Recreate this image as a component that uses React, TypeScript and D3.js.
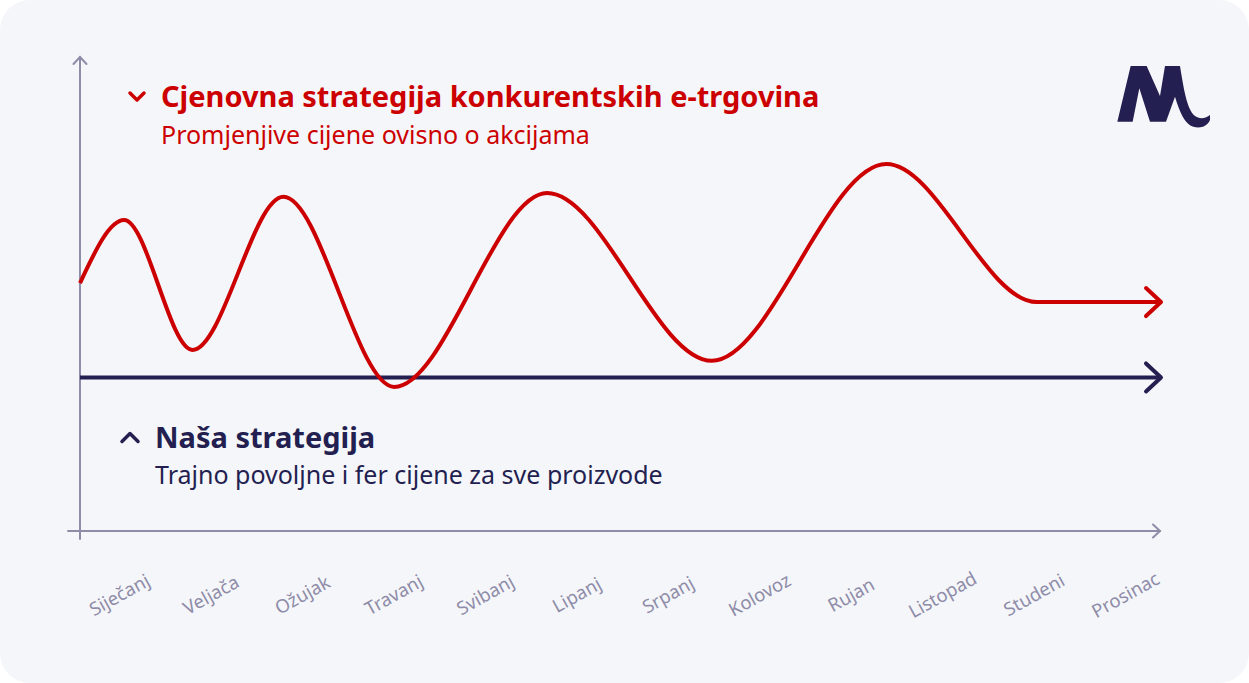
import { curveMonotoneX, line, scaleLinear, scalePoint } from "d3";
import React from "react";

const months = [
  "Siječanj",
  "Veljača",
  "Ožujak",
  "Travanj",
  "Svibanj",
  "Lipanj",
  "Srpanj",
  "Kolovoz",
  "Rujan",
  "Listopad",
  "Studeni",
  "Prosinac",
];

// turning points of the competitor curve: time across the year (0..12) and price level
const competitorTime = [0, 0.49, 1.25, 2.26, 3.49, 5.19, 7.02, 8.96, 10.63, 12];
const competitorPrice = [52.3, 65.6, 38.2, 70.5, 30.4, 71.3, 35.9, 77.4, 48.3, 48.3];

const ourTime = [0, 12];
const ourPrice = [32.4, 32.4];

const competitorTitle = "Cjenovna strategija konkurentskih e-trgovina";
const competitorSubtitle = "Promjenjive cijene ovisno o akcijama";
const ourTitle = "Naša strategija";
const ourSubtitle = "Trajno povoljne i fer cijene za sve proizvode";

const W = 1249;
const H = 683;
const RED = "#cc0000";
const NAVY = "#231f50";
const AXIS = "#8e8ca8";
const FONT = "'Noto Sans', 'Open Sans', sans-serif";

const xScale = scaleLinear().domain([0, 12]).range([80, 1160]);
const yScale = scaleLinear().domain([0, 100]).range([531, 57]);
const monthScale = scalePoint<string>().domain(months).range([119, 1125]);

const lineGen = line<[number, number]>()
  .x((d) => xScale(d[0]))
  .y((d) => yScale(d[1]))
  .curve(curveMonotoneX);

const chevron = (x: number, y: number, back: number, half: number) =>
  `M${x - back},${y - half}L${x},${y}L${x - back},${y + half}`;

const App: React.FC = () => {
  const competitor = competitorTime.map(
    (t, i) => [t, competitorPrice[i]] as [number, number],
  );
  const ours = ourTime.map((t, i) => [t, ourPrice[i]] as [number, number]);

  const x0 = xScale(0);
  const xEnd = xScale(12);
  const yBase = yScale(0);
  const yTop = yScale(100);
  const redEndY = yScale(competitorPrice[competitorPrice.length - 1]);
  const navyY = yScale(ourPrice[ourPrice.length - 1]);

  return (
    <svg
      width={W}
      height={H}
      style={{ position: "absolute", left: 0, top: 0, fontFamily: FONT }}
    >
      <rect width={W} height={H} fill="#ffffff" />
      <rect width={W} height={H} rx={30} fill="#f5f6fa" />

      {/* axes */}
      <g stroke={AXIS} strokeWidth={2} fill="none" strokeLinecap="round">
        <line x1={x0} x2={x0} y1={yBase + 8} y2={yTop} />
        <path d={`M${x0 - 6.5},${yTop + 7}L${x0},${yTop}L${x0 + 6.5},${yTop + 7}`} />
        <line x1={68} x2={xEnd} y1={yBase} y2={yBase} />
        <path d={chevron(xEnd, yBase, 7, 6.5)} />
      </g>

      {months.map((m) => (
        <text
          key={m}
          transform={`translate(${monthScale(m)}, 594) rotate(-29)`}
          textAnchor="middle"
          dominantBaseline="central"
          fontSize={18.5}
          fill={AXIS}
        >
          {m}
        </text>
      ))}

      {/* our line */}
      <path d={lineGen(ours)!} fill="none" stroke={NAVY} strokeWidth={4} />
      <path
        d={chevron(xEnd + 1, navyY, 15, 14)}
        fill="none"
        stroke={NAVY}
        strokeWidth={4}
        strokeLinecap="round"
        strokeLinejoin="round"
      />

      {/* competitor curve */}
      <path d={lineGen(competitor)!} fill="none" stroke={RED} strokeWidth={4} />
      <path
        d={chevron(xEnd + 1, redEndY, 15, 14)}
        fill="none"
        stroke={RED}
        strokeWidth={4}
        strokeLinecap="round"
        strokeLinejoin="round"
      />

      {/* labels */}
      <path
        d="M130,93L137,100L144,93"
        fill="none"
        stroke={RED}
        strokeWidth={3.5}
        strokeLinecap="round"
        strokeLinejoin="round"
      />
      <text x={161} y={107} fontSize={29} fontWeight={700} fill={RED}>
        {competitorTitle}
      </text>
      <text x={161} y={144} fontSize={25} fill={RED}>
        {competitorSubtitle}
      </text>

      <path
        d="M122,441.5L130,433.5L138,441.5"
        fill="none"
        stroke={NAVY}
        strokeWidth={3.5}
        strokeLinecap="round"
        strokeLinejoin="round"
      />
      <text x={155} y={448} fontSize={29} fontWeight={700} fill={NAVY}>
        {ourTitle}
      </text>
      <text x={155} y={484} fontSize={25} fill={NAVY}>
        {ourSubtitle}
      </text>

      {/* logo */}
      <g transform="translate(1110,60) scale(0.3333)" fill={NAVY}>
        <path d="M22,185 L62,18 L110,18 L150,108 L165,18 L210,18 C222,90 232,160 262,172 C278,178 290,172 300,165 L300,180 C292,200 270,206 250,200 C225,192 210,160 195,110 L168,185 L120,185 L88,85 L68,185 Z" />
      </g>
    </svg>
  );
};

export default App;
